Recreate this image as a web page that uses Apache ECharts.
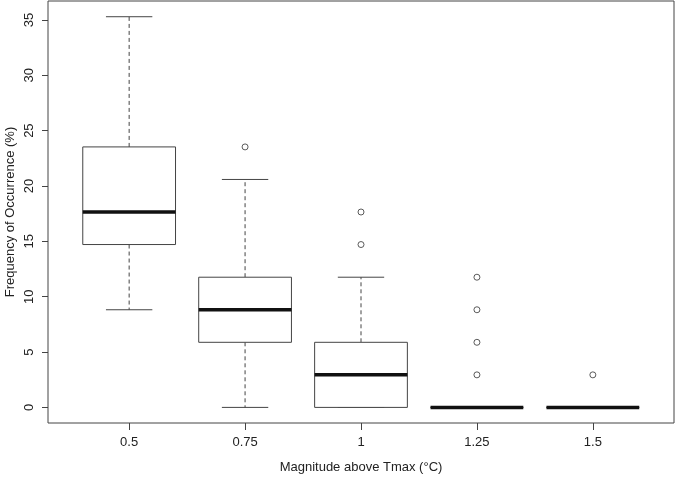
<!DOCTYPE html>
<html>
<head>
<meta charset="utf-8">
<script src="https://cdn.jsdelivr.net/npm/echarts@6/dist/echarts.min.js"></script>
<style>html,body{margin:0;padding:0;background:#fff}#c{width:675px;height:477px}</style>
</head>
<body>
<div id="c"></div>
<script>
// Data
const categories = ['0.5', '0.75', '1', '1.25', '1.5'];
const lowerWhisker = [8.82, 0, 0, 0, 0];
const q1 = [14.71, 5.88, 0, 0, 0];
const median = [17.65, 8.82, 2.94, 0, 0];
const q3 = [23.53, 11.76, 5.88, 0, 0];
const upperWhisker = [35.29, 20.59, 11.76, 0, 0];
const outliers = [[], [23.53], [17.65, 14.71], [2.94, 5.88, 8.82, 11.76], [2.94]];
const yTicks = [0, 5, 10, 15, 20, 25, 30, 35];

const FONT = "'Liberation Sans', Arial, Helvetica, sans-serif";
const LINE = '#444';
const TEXT = '#222';

const boxData = categories.map((c, i) => [i + 1, lowerWhisker[i], q1[i], median[i], q3[i], upperWhisker[i]]);
const outlierData = [];
outliers.forEach((arr, i) => arr.forEach(v => outlierData.push([i + 1, v])));

const chart = echarts.init(document.getElementById('c'), null, { renderer: 'canvas' });
chart.setOption({
  animation: false,
  grid: { left: 48, right: 1, top: 1, bottom: 54, outerBoundsMode: 'none', containLabel: false, show: true, borderColor: LINE, borderWidth: 1, backgroundColor: 'transparent' },
  xAxis: {
    type: 'value', min: 0.3, max: 5.7,
    name: 'Magnitude above Tmax (°C)', nameLocation: 'middle', nameGap: 38, nameMoveOverlap: false,
    nameTextStyle: { fontFamily: FONT, fontSize: 13, color: TEXT },
    splitLine: { show: false },
    axisLine: { show: false, onZero: false },
    axisTick: { show: true, inside: false, length: 7, lineStyle: { color: LINE }, customValues: [1, 2, 3, 4, 5] },
    axisLabel: { customValues: [1, 2, 3, 4, 5], formatter: v => categories[Math.round(v) - 1] || '', fontFamily: FONT, fontSize: 13, color: TEXT, margin: 13 }
  },
  yAxis: {
    type: 'value', min: -1.41, max: 36.71,
    name: 'Frequency of Occurrence (%)', nameLocation: 'middle', nameGap: 31, nameRotate: 90, nameMoveOverlap: false,
    nameTextStyle: { fontFamily: FONT, fontSize: 13, color: TEXT },
    splitLine: { show: false },
    axisLine: { show: false, onZero: false },
    axisTick: { show: true, inside: false, length: 6, lineStyle: { color: LINE }, customValues: yTicks },
    axisLabel: { customValues: yTicks, rotate: 90, fontFamily: FONT, fontSize: 13, color: TEXT, margin: 12 }
  },
  series: [
    {
      type: 'custom',
      data: boxData,
      encode: { x: 0, y: [1, 2, 3, 4, 5] },
      renderItem: function (params, api) {
        const x = api.value(0);
        const pLow = api.coord([x, api.value(1)]);
        const pQ1 = api.coord([x, api.value(2)]);
        const pMed = api.coord([x, api.value(3)]);
        const pQ3 = api.coord([x, api.value(4)]);
        const pHigh = api.coord([x, api.value(5)]);
        const halfBox = api.size([0.4, 0])[0];
        const halfCap = api.size([0.2, 0])[0];
        const cx = pMed[0];
        const solid = { stroke: LINE, lineWidth: 1, fill: null };
        const dashed = { stroke: LINE, lineWidth: 1, lineDash: [4, 3], fill: null };
        return {
          type: 'group',
          children: [
            { type: 'line', shape: { x1: cx, y1: pQ3[1], x2: cx, y2: pHigh[1] }, style: dashed },
            { type: 'line', shape: { x1: cx, y1: pQ1[1], x2: cx, y2: pLow[1] }, style: dashed },
            { type: 'line', shape: { x1: cx - halfCap, y1: pHigh[1], x2: cx + halfCap, y2: pHigh[1] }, style: solid },
            { type: 'line', shape: { x1: cx - halfCap, y1: pLow[1], x2: cx + halfCap, y2: pLow[1] }, style: solid },
            { type: 'rect', shape: { x: cx - halfBox, y: pQ3[1], width: 2 * halfBox, height: pQ1[1] - pQ3[1] }, style: { stroke: LINE, lineWidth: 1, fill: '#fff' } },
            { type: 'line', shape: { x1: cx - halfBox, y1: pMed[1], x2: cx + halfBox, y2: pMed[1] }, style: { stroke: '#111', lineWidth: 3.5 } }
          ]
        };
      },
      z: 2
    },
    {
      type: 'scatter',
      data: outlierData,
      symbol: 'circle',
      symbolSize: 6,
      itemStyle: { color: '#fff', borderColor: '#333', borderWidth: 1 },
      z: 3
    }
  ]
});
</script>
</body>
</html>
